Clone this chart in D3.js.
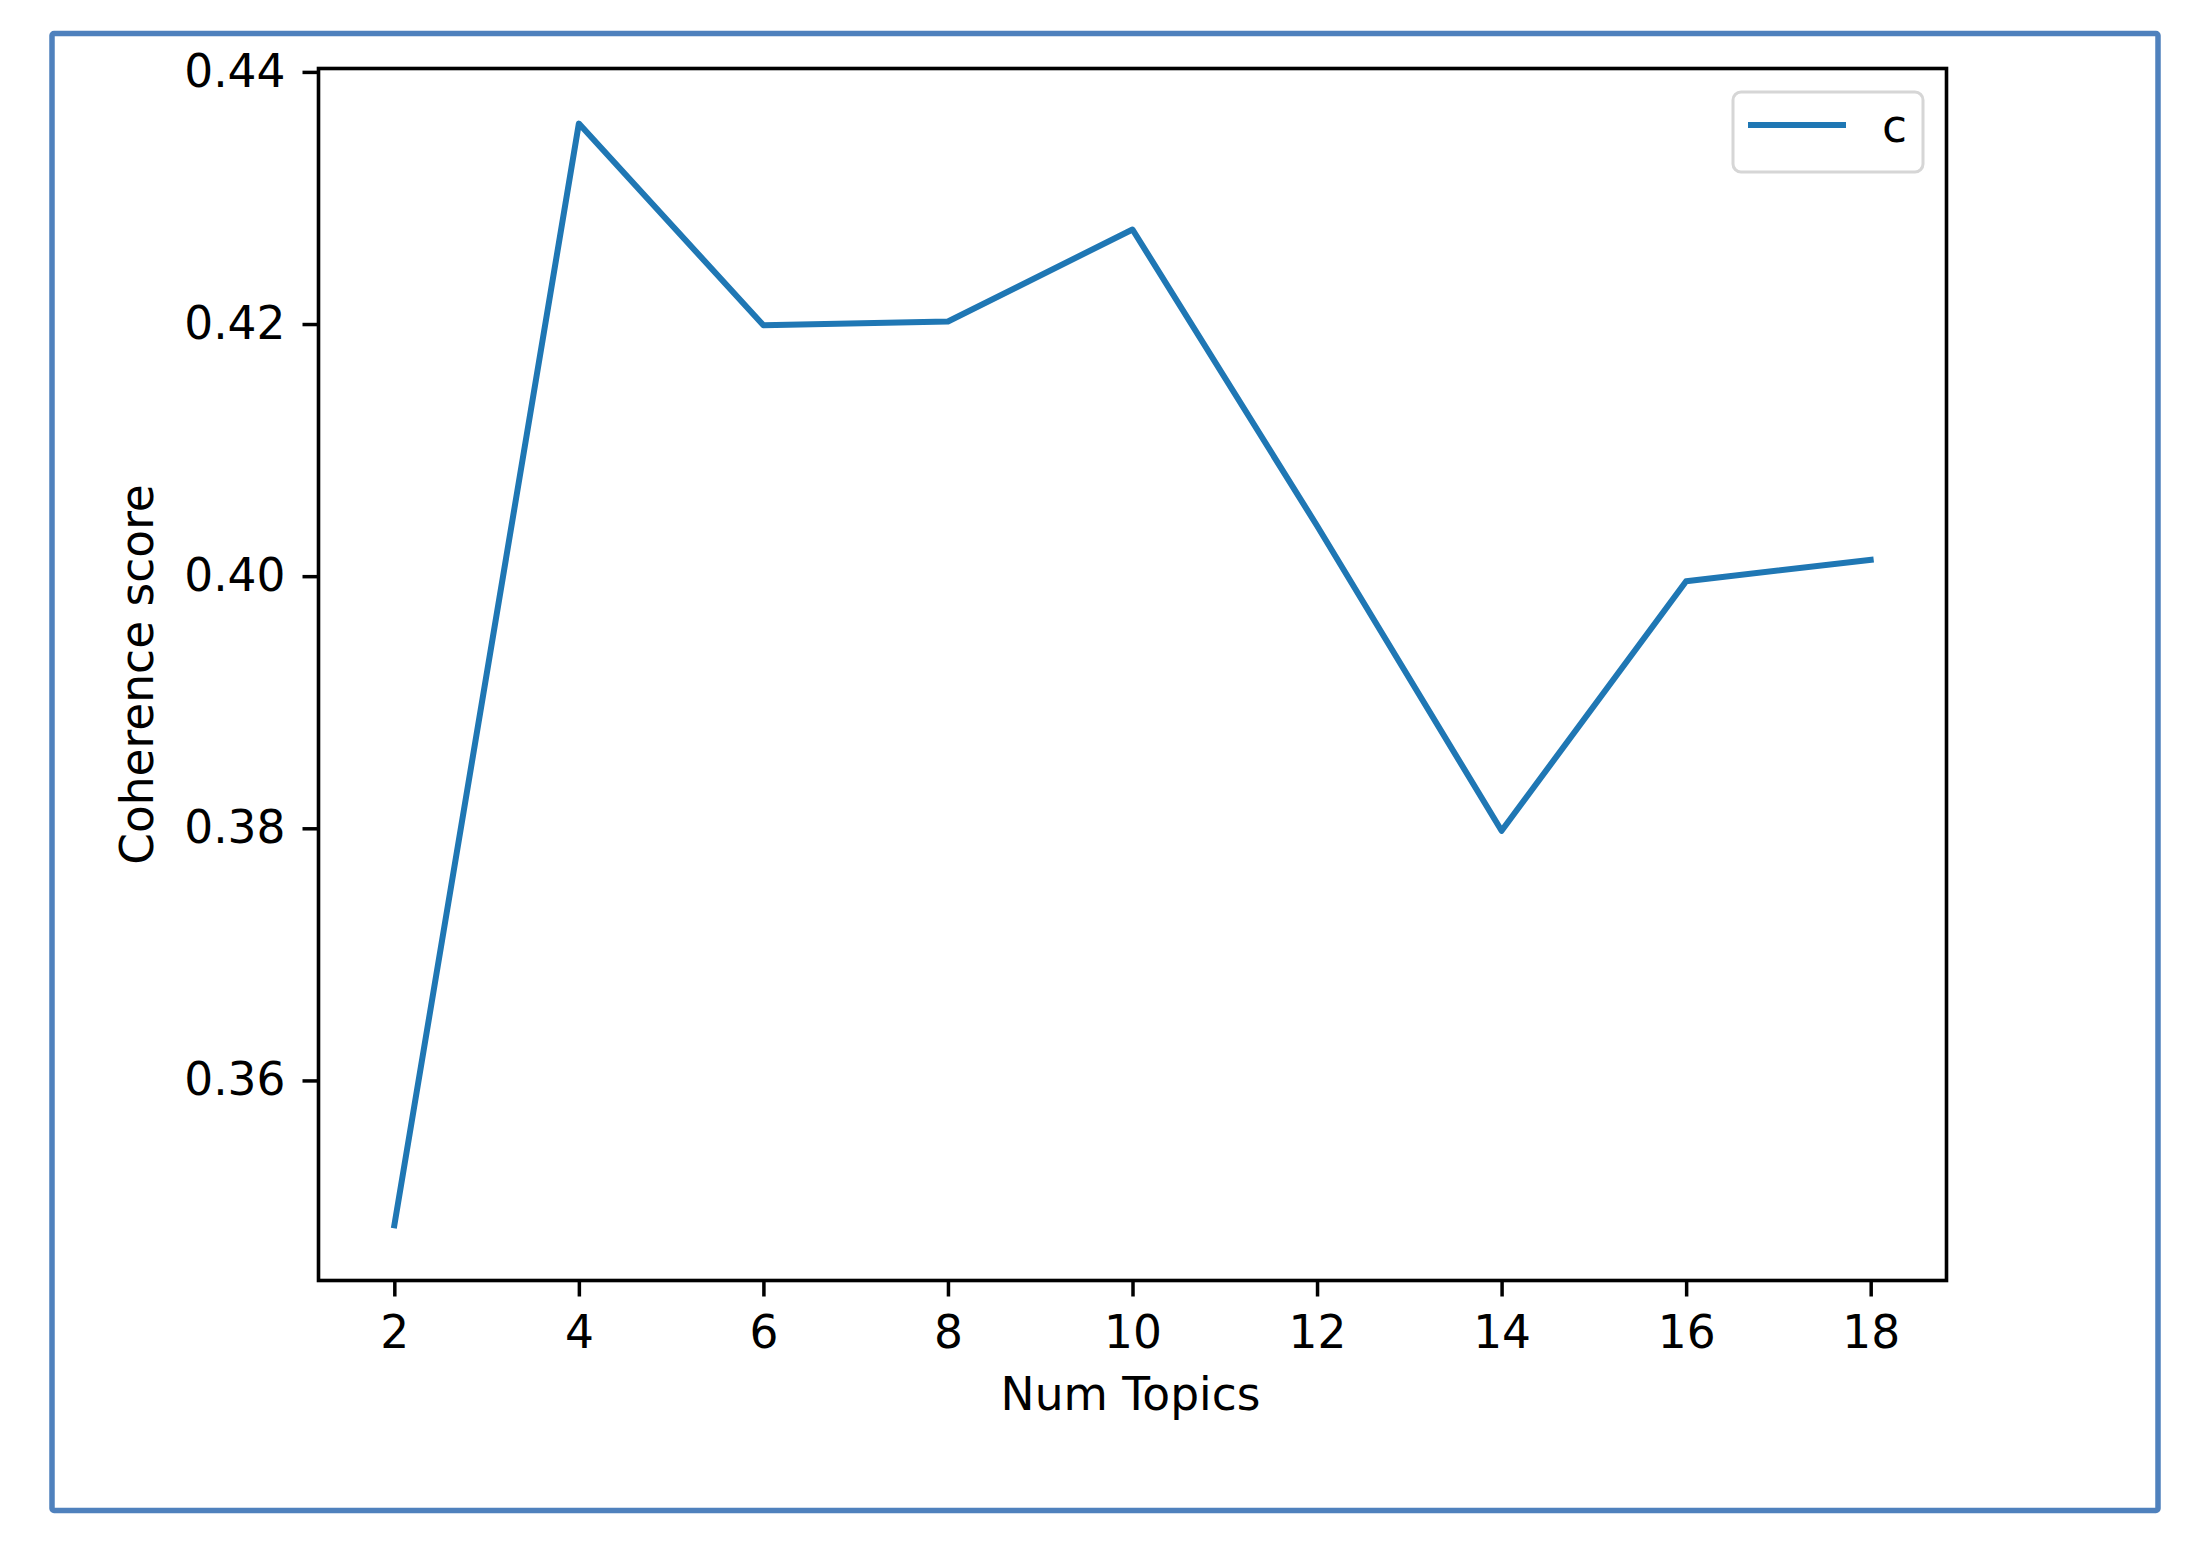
<!DOCTYPE html>
<html>
<head>
<meta charset="utf-8">
<script src="https://cdn.jsdelivr.net/npm/d3@7"></script>
<style>
  html, body { margin: 0; padding: 0; background: #fff; }
  svg { display: block; }
  text { font-family: "DejaVu Sans", sans-serif; fill: #000; }
</style>
</head>
<body>
<svg id="chart" width="2208" height="1548"></svg>
<script>
// ---- data ----
const numTopics = [2, 4, 6, 8, 10, 12, 14, 16, 18];
const coherence = [0.3485, 0.4359, 0.4199, 0.4202, 0.4275, 0.4040, 0.3798, 0.3996, 0.4013];
const xTicks = [2, 4, 6, 8, 10, 12, 14, 16, 18];
const yTicks = [0.36, 0.38, 0.40, 0.42, 0.44];
const seriesName = "c";
const xLabel = "Num Topics";
const yLabel = "Coherence score";

// ---- layout ----
const W = 2208, H = 1548;
const box = { left: 318.5, right: 1946.5, top: 68.5, bottom: 1280.5 };
const fontSize = 45.5;
const lineColor = "#1f77b4";

const svg = d3.select("#chart");
svg.append("rect").attr("width", W).attr("height", H).attr("fill", "#fff");

// outer blue frame
svg.append("rect")
  .attr("x", 52).attr("y", 33.5)
  .attr("width", 2158 - 52).attr("height", 1510.5 - 33.5)
  .attr("rx", 2)
  .attr("fill", "none")
  .attr("stroke", "#4F81BD")
  .attr("stroke-width", 5.5);

// matplotlib-like auto limits (5% margins)
const xMin = d3.min(numTopics), xMax = d3.max(numTopics);
const xPad = (xMax - xMin) * 0.05;
const yMin = d3.min(coherence), yMax = d3.max(coherence);
const yPad = (yMax - yMin) * 0.05;

const x = d3.scaleLinear().domain([xMin - xPad, xMax + xPad]).range([box.left + 2, box.right - 2]);
const y = d3.scaleLinear().domain([yMin - yPad, yMax + yPad]).range([box.bottom, box.top]);

// line
const line = d3.line().x((d, i) => x(numTopics[i])).y(d => y(d));
svg.append("path")
  .datum(coherence)
  .attr("d", line)
  .attr("fill", "none")
  .attr("stroke", lineColor)
  .attr("stroke-width", 6)
  .attr("stroke-linejoin", "round")
  .attr("stroke-linecap", "square");

// axes
const tickLen = 16, tickPad = 17;
const xAxis = d3.axisBottom(x).tickValues(xTicks).tickFormat(d3.format("d"))
  .tickSize(tickLen).tickPadding(tickPad);
const yAxis = d3.axisLeft(y).tickValues(yTicks).tickFormat(d3.format(".2f"))
  .tickSize(tickLen).tickPadding(tickPad);

const gx = svg.append("g").attr("transform", `translate(0,${box.bottom})`).call(xAxis);
const gy = svg.append("g").attr("transform", `translate(${box.left},0)`).call(yAxis);
[gx, gy].forEach(g => {
  g.select(".domain").remove();
  g.selectAll(".tick line").attr("stroke", "#000").attr("stroke-width", 3.5);
  g.selectAll(".tick text").attr("font-size", fontSize).attr("font-family", "DejaVu Sans").attr("fill", "#000");
});
gx.selectAll(".tick text").attr("dy", "0.76em");

// spines (frame)
svg.append("rect")
  .attr("x", box.left).attr("y", box.top)
  .attr("width", box.right - box.left).attr("height", box.bottom - box.top)
  .attr("fill", "none").attr("stroke", "#000").attr("stroke-width", 3.6);

// axis labels
svg.append("text")
  .attr("x", (box.left + box.right) / 2 - 2).attr("y", 1410)
  .attr("text-anchor", "middle").attr("font-size", fontSize)
  .text(xLabel);
svg.append("text")
  .attr("transform", `translate(153,${(box.top + box.bottom) / 2}) rotate(-90)`)
  .attr("text-anchor", "middle").attr("font-size", fontSize)
  .text(yLabel);

// legend
const lg = svg.append("g");
lg.append("rect")
  .attr("x", 1733).attr("y", 92).attr("width", 190).attr("height", 80)
  .attr("rx", 8).attr("fill", "#fff").attr("fill-opacity", 0.8)
  .attr("stroke", "#d6d6d6").attr("stroke-width", 3);
lg.append("line")
  .attr("x1", 1748).attr("x2", 1846).attr("y1", 125).attr("y2", 125)
  .attr("stroke", lineColor).attr("stroke-width", 6);
lg.append("text")
  .attr("x", 1882).attr("y", 141.5).attr("font-size", fontSize)
  .text(seriesName);
</script>
</body>
</html>
